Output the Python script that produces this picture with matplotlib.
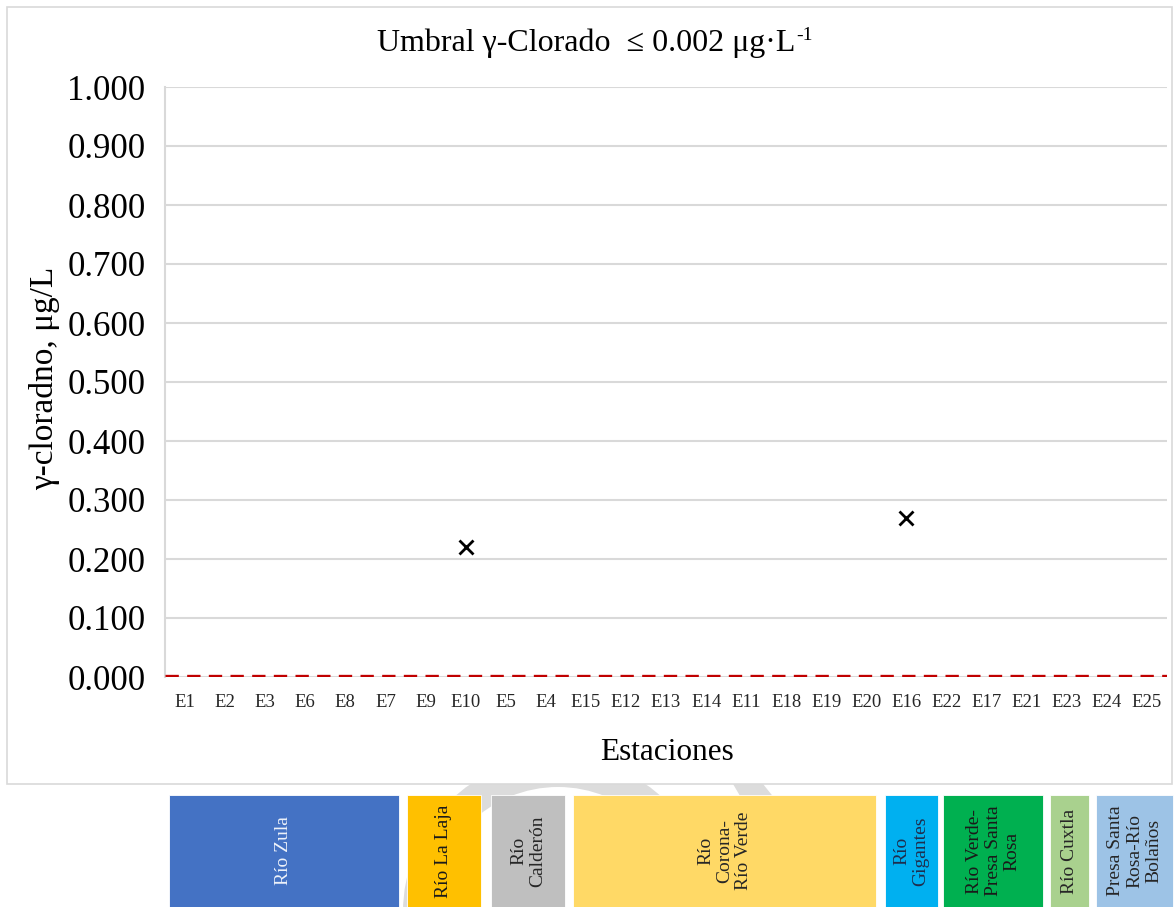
import matplotlib
matplotlib.use("Agg")
import matplotlib.pyplot as plt
from matplotlib.patches import Rectangle, Wedge, Polygon
import numpy as np

plt.rcParams['font.family'] = ['Liberation Serif', 'DejaVu Serif']

# ---- data ----
stations = ["E1", "E2", "E3", "E6", "E8", "E7", "E9", "E10", "E5", "E4",
            "E15", "E12", "E13", "E14", "E11", "E18", "E19", "E20", "E16",
            "E22", "E17", "E21", "E23", "E24", "E25"]
detected_stations = ["E10", "E16"]
detected_values = [0.220, 0.270]
threshold = 0.002

basins = ["Río Zula", "Río La Laja", "Río\nCalderón", "Río\nCorona-\nRío Verde",
          "Río\nGigantes", "Río Verde-\nPresa Santa\nRosa", "Río Cuxtla",
          "Presa Santa\nRosa-Río\nBolaños"]
basin_colors = ["#4472c4", "#ffc000", "#bfbfbf", "#ffd966",
                "#00b0f0", "#00b050", "#a9d18e", "#9dc3e6"]
basin_text_colors = ["#eef2fa", "#1a1a1a", "#262626", "#262626",
                     "#1f2d4d", "#1a1a1a", "#262626", "#262626"]

yticks = np.arange(0, 1.0001, 0.1)

# ---- figure layout (pixel based) ----
W, H = 1175, 907
fig = plt.figure(figsize=(W / 100, H / 100), dpi=100)


def fx(x):
    return x / W


def fy(y):
    return 1 - y / H


# faint watermark behind the basin strip
ring = Wedge((558, H - 912), 155, 0, 360, width=30, transform=None,
             facecolor="#dcdcdc", edgecolor="none", zorder=0)
fig.add_artist(ring)
band = Polygon([[733, H - 784], [763, H - 784], [800, H - 830], [760, H - 830]],
               closed=True, transform=None, facecolor="#dcdcdc",
               edgecolor="none", zorder=0)
fig.add_artist(band)

# chart frame
frame = Rectangle((fx(7), fy(784)), fx(1172) - fx(7), fy(7) - fy(784),
                  transform=fig.transFigure, facecolor="white",
                  edgecolor="#d9d9d9", linewidth=1.2, zorder=1)
fig.add_artist(frame)

ax = fig.add_axes([fx(165), fy(677), fx(1167) - fx(165), fy(87) - fy(677)])
ax.set_zorder(2)
ax.patch.set_alpha(0)

x = np.arange(len(stations))
ax.set_xlim(-0.5, len(stations) - 0.5)
ax.set_ylim(0, 1.0)
ax.set_yticks(yticks)
ax.set_yticklabels([f"{v:.3f}" for v in yticks])
ax.set_xticks(x)
ax.set_xticklabels(stations)

ax.grid(axis="y", color="#d9d9d9", linewidth=1.5, zorder=0)
ax.set_axisbelow(True)
for s in ["top", "right", "bottom"]:
    ax.spines[s].set_visible(False)
ax.spines["left"].set_color("#d9d9d9")
ax.spines["left"].set_linewidth(1.5)
ax.tick_params(axis="both", length=0)
ax.tick_params(axis="y", labelsize=25, pad=14, colors="black")
ax.tick_params(axis="x", labelsize=13.5, pad=12, colors="#262626")

# threshold line
ax.axhline(threshold, color="#c00000", linewidth=2.4, linestyle=(0, (4, 2.5)),
           zorder=3)

# detected values
xi = [stations.index(s) for s in detected_stations]
ax.plot(xi, detected_values, linestyle="none", marker="x", markersize=10,
        markeredgewidth=2, color="black", zorder=4, clip_on=False)

ax.set_xlabel("Estaciones", fontsize=22.5)
ax.xaxis.label.set_va("center")
ax.xaxis.set_label_coords((667 - 165) / 1002, (677 - 752) / 590)
ax.set_ylabel("γ-cloradno, μg/L", fontsize=24)
ax.yaxis.label.set_va("center")
ax.yaxis.set_label_coords((45 - 165) / 1002, (677 - 378) / 590)

title = fig.text(fx(586), fy(43), "Umbral γ-Clorado  ≤ 0.002 μg·L",
                 ha="center", va="center", fontsize=23, zorder=3)
fig.canvas.draw()
ax.annotate("-1", xy=(1.0, 1.0), xycoords=title, xytext=(0.5, 1),
            textcoords="offset points", ha="left", va="top", fontsize=14)

# basin strip below the chart
box_edges = [(169, 399), (407, 481), (491, 565), (573, 876),
             (885, 938), (943, 1043), (1050, 1089), (1096, 1173)]
top, bottom = 795, 910
for name, col, tcol, (x0, x1) in zip(basins, basin_colors, basin_text_colors,
                                     box_edges):
    r = Rectangle((fx(x0), fy(bottom)), fx(x1) - fx(x0), fy(top) - fy(bottom),
                  transform=fig.transFigure, facecolor=col,
                  edgecolor="white", linewidth=0.6, zorder=2)
    fig.add_artist(r)
    fig.text(fx((x0 + x1) / 2), fy((top + 907) / 2), name, rotation=90,
             ha="center", va="center", multialignment="center",
             fontsize=14, color=tcol, linespacing=1.15, zorder=3)

fig.savefig("out.png", dpi=100)
